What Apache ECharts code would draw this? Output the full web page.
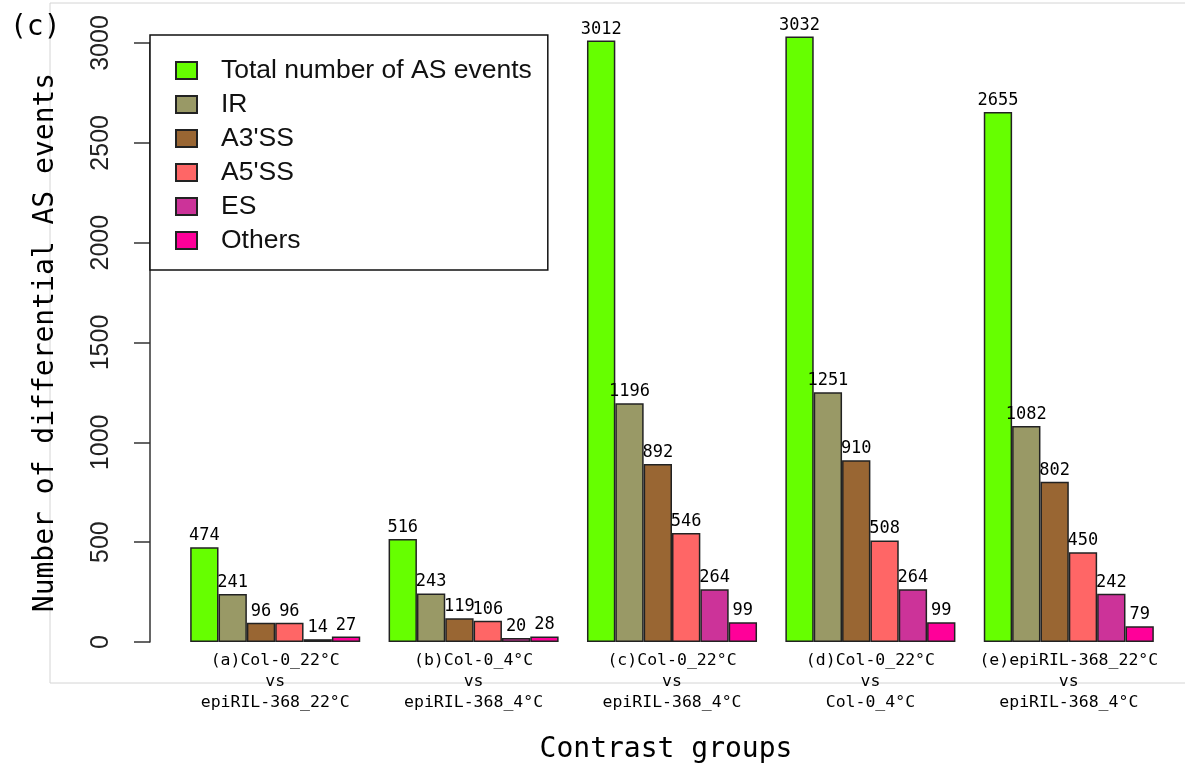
<!DOCTYPE html>
<html>
<head>
<meta charset="utf-8">
<script src="https://cdn.jsdelivr.net/npm/echarts@6/dist/echarts.min.js"></script>
<style>
  html, body { margin: 0; padding: 0; background: #fff; }
  #chart_box { width: 1185px; height: 769px; }
</style>
</head>
<body>
<div id="chart_box"></div>
<script>
// contrast groups (x categories)
var groups = [
  '(a)Col-0_22°C\nvs\nepiRIL-368_22°C',
  '(b)Col-0_4°C\nvs\nepiRIL-368_4°C',
  '(c)Col-0_22°C\nvs\nepiRIL-368_4°C',
  '(d)Col-0_22°C\nvs\nCol-0_4°C',
  '(e)epiRIL-368_22°C\nvs\nepiRIL-368_4°C'
]
var seriesNames = ['Total number of AS events', 'IR', "A3'SS", "A5'SS", 'ES', 'Others']
var seriesColors = ['#66ff00', '#999966', '#996633', '#ff6666', '#cc3399', '#ff0099']

// values per series, one per group
var totalVals = [474, 516, 3012, 3032, 2655]
var irVals = [241, 243, 1196, 1251, 1082]
var a3Vals = [96, 119, 892, 910, 802]
var a5Vals = [96, 106, 546, 508, 450]
var esVals = [14, 20, 264, 264, 242]
var otherVals = [27, 28, 99, 99, 79]
var yTicks = [0, 500, 1000, 1500, 2000, 2500, 3000]

var allVals = [totalVals, irVals, a3Vals, a5Vals, esVals, otherVals]

var chartDom = document.getElementById('chart_box')
var myChart = echarts.init(chartDom)
var monoFont = '"DejaVu Sans Mono", monospace'
var sansFont = '"Liberation Sans", Arial, sans-serif'
var option

option = {
  animation: false,
  backgroundColor: '#fff',
  graphic: [
    {
      // light frame around the figure
      type: 'rect',
      z: -10,
      silent: true,
      shape: { x: 50, y: 3, width: 1200, height: 680 },
      style: { fill: 'none', stroke: '#d4d4d4', lineWidth: 1 }
    },
    {
      type: 'text',
      left: 10,
      top: 14,
      style: { text: '(c)', font: '28px ' + monoFont, fill: '#000' }
    }
  ],
  legend: {
    orient: 'vertical',
    left: 150,
    top: 35,
    backgroundColor: '#fff',
    borderColor: '#111',
    borderWidth: 1.5,
    padding: [22, 16, 16, 25],
    itemGap: 7,
    itemWidth: 21,
    itemHeight: 17,
    icon: 'rect',
    textStyle: {
      fontFamily: sansFont,
      fontSize: 26.5,
      color: '#111',
      padding: [0, 0, 0, 19]
    },
    data: seriesNames
  },
  grid: {
    left: 176,
    right: 17,
    top: 43,
    bottom: 126,
    containLabel: false
  },
  xAxis: {
    type: 'category',
    data: groups,
    axisLine: { show: false },
    axisTick: { show: false },
    axisLabel: {
      fontFamily: monoFont,
      fontSize: 16.5,
      lineHeight: 21,
      color: '#000',
      margin: 8,
      interval: 0
    },
    name: 'Contrast groups',
    nameLocation: 'middle',
    nameGap: 94,
    nameTextStyle: { fontFamily: monoFont, fontSize: 28, color: '#000', padding: [0, 12, 0, 0] }
  },
  yAxis: {
    type: 'value',
    min: yTicks[0],
    max: yTicks[yTicks.length - 1],
    interval: 500,
    offset: 26,
    splitLine: { show: false },
    axisLine: { show: true, lineStyle: { color: '#333', width: 1.5 } },
    axisTick: { show: true, length: 16, lineStyle: { color: '#333', width: 1.5 } },
    axisLabel: {
      rotate: 90,
      margin: 36,
      fontFamily: sansFont,
      fontSize: 25,
      color: '#222',
      formatter: function(v) { return String(v) }
    },
    name: 'Number of differential AS events',
    nameLocation: 'middle',
    nameGap: 90,
    nameTextStyle: { fontFamily: monoFont, fontSize: 28, color: '#000' }
  },
  series: seriesNames.map(function(name, idx) {
    return {
      name: name,
      type: 'bar',
      clip: false,
      barGap: 0,
      barCategoryGap: '14.29%',
      data: allVals[idx],
      itemStyle: {
        color: seriesColors[idx],
        borderColor: '#222',
        borderWidth: 1.5
      },
      label: {
        show: true,
        position: 'top',
        distance: 3,
        fontFamily: monoFont,
        fontSize: 17,
        color: '#000'
      }
    }
  })
}

option && myChart.setOption(option)
</script>
</body>
</html>
